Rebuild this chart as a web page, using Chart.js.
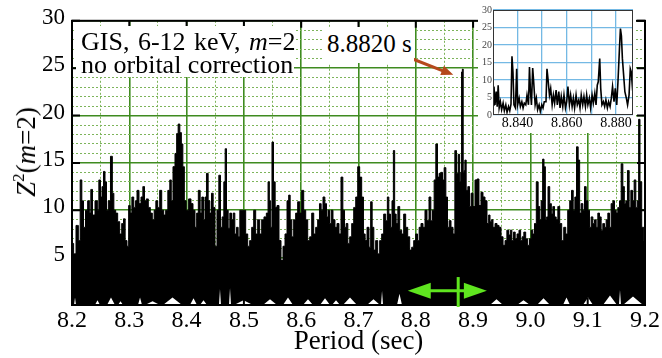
<!DOCTYPE html>
<html><head><meta charset="utf-8">
<script src="https://cdn.jsdelivr.net/npm/chart.js@4.4.0/dist/chart.umd.min.js"></script>
<style>
html,body{margin:0;padding:0;background:#fff;}
#wrap{position:relative;width:662px;height:358px;overflow:hidden;font-family:'Liberation Serif','Times New Roman',serif;}
#main{position:absolute;left:0;top:0;}
#insetBox{position:absolute;left:478px;top:0;width:158px;height:133px;background:#fff;}
#inset{position:absolute;left:0;top:0;}
.lbl{position:absolute;background:#fff;color:#000;white-space:nowrap;box-sizing:border-box;}
#ytitle{position:absolute;left:28px;top:152px;transform:translate(-50%,-50%) rotate(-90deg);font-size:27px;line-height:30px;white-space:nowrap;color:#000;}
</style></head><body>
<div id="wrap">
<canvas id="main" width="662" height="358"></canvas>
<div class="lbl" style="left:76px;top:26px;width:218px;height:51px;padding:4px 0 0 5px;font-size:26px;line-height:23px;"><span style="word-spacing:2px;">GIS, 6-12 keV, <i>m</i>=2</span><br>no orbital correction</div>
<div class="lbl" style="left:322px;top:27px;width:92px;height:36px;padding:2px 0 0 5px;font-size:25px;line-height:30px;">8.8820 s</div>
<div id="ytitle"><i>Z</i><span style="font-size:17px;position:relative;top:-11px;">2</span>(<i>m</i>=2)</div>
<div id="insetBox"><canvas id="inset" width="158" height="133"></canvas></div>
</div>
<script>
// ---------- main periodogram (upper envelope) ----------
const periods = [
8.2000,8.2010,8.2047,8.2093,8.2128,8.2157,8.2186,8.2215,8.2256,8.2291,8.2314,8.2343,8.2372,8.2431,8.2454,8.2483,8.2512,8.2535,8.2564,8.2588,
8.2616,8.2651,8.2692,8.2716,8.2745,8.2780,8.2814,8.2850,8.2885,8.2913,8.2942,8.2977,8.3000,8.3030,8.3060,8.3094,8.3117,8.3152,8.3187,8.3222,
8.3251,8.3280,8.3314,8.3349,8.3384,8.3419,8.3449,8.3478,8.3513,8.3548,8.3583,8.3618,8.3652,8.3693,
8.3720,8.3745,8.3780,8.3815,8.3838,8.3867,8.3897,8.3920,8.3949,8.3972,8.4012,8.4059,8.4094,8.4129,8.4164,8.4187,8.4222,8.4251,8.4280,8.4309,
8.4333,8.4361,8.4391,8.4420,8.4449,8.4478,8.4513,8.4548,8.4577,8.4606,8.4635,8.4664,8.4682,8.4711,8.4740,8.4769,8.4798,8.4827,8.4856,8.4885,
8.4914,8.4944,8.4979,8.5013,8.5049,8.5084,8.5118,8.5154,8.5188,8.5223,8.5258,8.5293,8.5328,8.5373,
8.5410,8.5433,8.5456,8.5478,8.5502,8.5531,8.5560,8.5595,8.5630,8.5665,8.5700,8.5735,8.5770,8.5793,8.5822,8.5851,8.5886,8.5921,8.5956,8.5991,
8.6026,8.6061,8.6096,8.6131,8.6166,8.6201,8.6236,8.6270,8.6305,8.6333,8.6363,8.6398,8.6428,8.6455,8.6480,8.6508,8.6537,8.6572,8.6607,8.6642,
8.6677,8.6712,8.6742,8.6770,8.6799,8.6829,8.6864,8.6899,8.6934,8.6969,8.7003,8.7038,8.7073,
8.7100,8.7131,8.7166,8.7200,8.7224,8.7253,8.7282,8.7317,8.7352,8.7387,8.7422,8.7457,8.7492,8.7515,8.7544,8.7572,8.7597,8.7620,8.7642,8.7672,
8.7702,8.7736,8.7771,8.7806,8.7841,8.7876,8.7911,8.7946,8.7981,8.8016,8.8044,8.8073,8.8108,8.8143,8.8178,8.8213,8.8248,8.8277,8.8305,8.8335,
8.8364,8.8393,8.8422,8.8452,8.8480,8.8510,8.8539,8.8567,8.8597,8.8632,8.8667,8.8696,8.8724,8.8754,8.8777,8.8792,8.8805,8.8820,8.8835,
8.8850,8.8864,8.8894,8.8923,8.8951,8.8980,8.9016,8.9050,8.9085,8.9120,8.9155,8.9190,8.9225,8.9260,8.9283,8.9307,8.9330,8.9365,8.9400,8.9435,
8.9470,8.9505,8.9540,8.9575,8.9604,8.9633,8.9662,8.9692,8.9720,8.9749,8.9784,8.9818,8.9841,8.9871,8.9900,8.9935,8.9970,8.9998,9.0028,9.0057,
9.0086,9.0120,9.0150,9.0173,9.0202,9.0225,9.0250,9.0272,9.0295,9.0320,9.0354,9.0377,9.0407,9.0435,9.0464,9.0494,9.0529,
9.0564,9.0599,9.0634,9.0669,9.0704,9.0732,9.0761,9.0791,9.0819,9.0848,9.0871,9.0900,9.0930,9.0958,9.0988,9.1017,9.1045,9.1075,9.1105,9.1133,
9.1162,9.1192,9.1220,9.1249,9.1279,9.1307,9.1337,9.1366,9.1394,9.1424,9.1454,9.1482,9.1511,9.1541,9.1569,9.1599,9.1628,9.1651,9.1680,9.1708,
9.1738,9.1768,9.1796,9.1825,9.1855,9.1878,9.1900,9.1925,9.1960,9.1995,9.2000
];
const z2 = [
4.5,6.5,5.4,8.4,6.8,13.2,11.0,8.2,10.0,11.0,9.7,12.2,9.5,11.0,10.0,13.2,11.4,12.5,14.1,13.0,
10.0,11.0,15.7,11.8,10.0,9.7,8.8,7.5,8.6,9.1,6.8,6.2,10.5,9.7,11.4,10.3,11.0,12.1,10.7,11.4,
12.5,11.0,11.2,10.3,9.7,9.0,10.0,11.0,10.3,12.1,10.0,9.5,10.0,12.1,
13.2,11.0,14.6,16.0,18.1,19.1,18.2,17.0,14.6,11.0,10.0,11.2,10.7,10.0,8.2,9.7,12.1,9.7,11.4,9.0,
11.4,13.9,11.0,9.7,11.8,10.3,6.2,10.0,13.7,8.2,9.3,13.0,16.5,10.0,8.1,9.7,9.0,9.7,7.5,8.2,
7.2,10.0,10.0,10.0,7.5,6.2,6.8,8.2,10.0,7.5,9.0,7.5,9.0,9.3,
9.7,13.0,11.0,8.2,17.2,13.0,10.3,10.5,6.8,4.7,6.2,7.5,11.0,11.6,9.0,7.2,9.0,9.7,10.9,9.7,
12.1,10.0,9.0,6.8,7.2,9.7,7.5,8.2,9.0,10.7,10.0,11.4,10.7,9.3,10.0,8.6,10.0,9.0,8.2,8.6,
7.5,13.5,10.0,8.2,8.6,6.5,7.2,8.6,10.3,11.4,14.6,13.5,11.4,
7.5,6.8,8.2,6.1,10.9,8.2,5.8,6.8,5.4,6.8,7.5,9.6,8.9,11.4,9.6,8.2,11.0,16.3,9.6,8.6,
10.4,7.9,7.5,9.6,8.2,7.2,5.8,6.1,6.8,7.5,6.8,8.2,8.6,8.2,10.0,8.9,11.4,8.9,10.0,13.2,
17.0,13.5,13.9,14.0,13.2,14.5,11.4,8.2,8.9,8.2,7.5,16.3,13.9,15.9,13.0,14.0,24.6,24.9,14.0,
14.2,15.3,12.1,12.5,10.4,11.8,10.4,13.2,13.3,10.5,11.9,11.4,11.0,8.6,9.5,8.8,9.0,8.2,8.6,8.4,
8.2,7.2,6.3,6.8,7.9,7.4,7.9,6.8,7.7,7.0,7.5,7.9,6.8,7.2,7.7,7.0,6.3,7.0,7.9,7.5,
8.6,13.0,10.4,9.0,11.0,15.4,14.6,9.0,9.3,12.5,10.7,9.6,10.4,9.3,9.0,10.4,8.6,
6.8,8.2,7.5,10.0,11.0,12.1,10.0,11.4,16.7,15.3,9.7,10.7,10.0,12.5,11.0,10.0,8.2,9.3,8.6,9.0,
8.2,9.7,9.3,7.9,8.6,8.2,9.0,9.7,8.2,10.7,11.0,10.0,9.7,10.3,11.0,14.9,12.5,10.7,11.0,14.2,
10.3,12.1,11.0,13.2,10.3,11.0,19.6,13.0,8.2,6.8,7.0
];
// lower envelope: spots near the bottom that the curve never reaches (white flecks)
const floorStart  = [8.2035,8.2105,8.2401,8.2611,8.2803,8.3152,8.3274,8.3588,8.4059,8.4234,8.4565,8.4740,8.4827,8.5333,8.5682,8.6031,8.6328,8.6538,8.6729,8.7148,8.7393,8.7672,8.9295,8.9766,9.0115,9.0569,9.0918,9.1267,9.1546,9.1616];
const floorEnd    = [8.2070,8.2122,8.2489,8.2750,8.2890,8.3222,8.3536,8.3920,8.4182,8.4356,8.4600,8.4775,8.5159,8.5578,8.5857,8.6206,8.6503,8.6677,8.6974,8.7375,8.7428,8.7759,8.9522,8.9993,9.0342,9.0691,9.1093,9.1511,9.1581,9.1965];
const floorHeight = [0.8,0.5,0.5,0.8,0.4,0.8,0.4,0.8,0.7,0.5,1.7,1.8,0.5,0.6,0.8,0.6,0.7,0.5,0.8,0.6,1.5,1.2,0.6,0.5,0.7,0.8,0.8,1.0,1.6,0.9];

const xMajorTicks = [8.2,8.3,8.4,8.5,8.6,8.7,8.8,8.9,9.0,9.1,9.2];
const xTickLabels = ['8.2','8.3','8.4','8.5','8.6','8.7','8.8','8.9','9.0','9.1','9.2'];
const xMinorTicks = [8.25,8.35,8.45,8.55,8.65,8.75,8.85,8.95,9.05,9.15];
const yMajorTicks = [0,5,10,15,20,25,30];
const yTickLabels = ['','5','10','15','20','25','30'];

// annotations
const greenArrowSpan = [8.786, 8.924];
const greenArrowLevel = 1.5;
const greenMark = 8.874;
const greenMarkTop = 2.95;
const brownArrowFrom = [8.7946, 25.97];
const brownArrowTo = [8.8654, 24.3];

// ---------- inset (zoom around 8.88 s) ----------
const inPeriods = [
8.8301,8.8305,8.8309,8.8314,8.8318,8.8322,8.8326,8.8331,8.8336,8.8342,8.8347,8.8353,8.8358,8.8364,8.8369,8.8374,8.8378,8.8382,8.8386,8.8392,
8.8397,8.8401,8.8407,8.8412,8.8418,8.8423,8.8428,8.8434,8.8439,8.8445,8.8449,8.8453,8.8457,8.8462,8.8466,8.8472,8.8477,8.8482,8.8488,8.8493,
8.8499,8.8504,8.8509,8.8516,8.8520,8.8524,8.8530,8.8535,8.8541,8.8546,8.8551,8.8557,8.8562,8.8568,8.8573,8.8578,8.8584,8.8589,8.8595,8.8600,
8.8605,8.8611,8.8616,8.8622,8.8627,8.8632,8.8638,8.8643,8.8649,8.8654,8.8659,8.8665,8.8670,8.8676,8.8681,8.8686,8.8692,8.8697,8.8703,8.8708,
8.8714,8.8719,8.8724,8.8728,8.8734,8.8738,8.8743,8.8749,8.8754,8.8759,8.8765,8.8770,8.8776,8.8781,8.8786,8.8792,8.8797,8.8803,8.8808,8.8814,
8.8818,8.8822,8.8826,8.8831,8.8836,8.8842,8.8847,8.8853,8.8858,8.8862,8.8866,8.8869
];
const inZ2 = [
2.9,8.1,2.9,6.7,2.4,8.5,2.0,3.8,1.5,3.4,1.2,2.9,0.8,2.4,1.2,3.1,16.8,12.3,2.9,2.0,
13.2,2.9,4.8,2.4,3.8,2.0,3.4,2.9,5.7,2.9,13.7,6.7,2.9,13.4,9.5,2.9,4.8,1.5,2.9,1.0,
2.9,2.0,3.8,3.8,13.2,10.4,5.7,7.6,2.9,5.7,3.4,7.1,2.9,6.7,2.0,5.3,2.4,5.7,2.0,3.8,
8.1,2.9,5.7,2.4,4.8,2.0,5.7,2.9,4.3,2.0,5.7,2.9,5.3,2.4,5.7,2.9,4.8,2.0,5.7,3.4,
6.2,2.9,8.5,9.5,16.1,7.6,2.9,3.8,2.4,4.3,2.0,3.8,2.4,4.8,8.1,3.8,7.6,2.9,9.5,18.9,
24.7,22.6,16.1,11.4,6.7,4.8,2.9,5.7,13.2,12.3,8.5,9.5
];
const inXTicks = [8.840,8.850,8.860,8.870,8.880];
const inXLabels = {'8.84':'8.840','8.86':'8.860','8.88':'8.880'};
const inYTicks = [0,5,10,15,20,25,30];

Chart.defaults.font.family = "'Liberation Serif','Times New Roman',serif";
Chart.defaults.color = '#000';

const isXMajor = v => xMajorTicks.some(t => Math.abs(t - v) < 1e-6);
const isYMajor = v => yMajorTicks.includes(v);

function arrowHead(ctx, x1, y1, x2, y2, len, half) {
  const ang = Math.atan2(y2 - y1, x2 - x1);
  ctx.beginPath();
  ctx.moveTo(x2, y2);
  ctx.lineTo(x2 - len * Math.cos(ang) + half * Math.sin(ang), y2 - len * Math.sin(ang) - half * Math.cos(ang));
  ctx.lineTo(x2 - len * Math.cos(ang) - half * Math.sin(ang), y2 - len * Math.sin(ang) + half * Math.cos(ang));
  ctx.closePath();
  ctx.fill();
}

const framePlugin = {
  id: 'frame',
  afterDatasetsDraw(chart) {
    const {ctx, chartArea: a, scales: {x, y}} = chart;
    ctx.save();
    ctx.strokeStyle = '#000';
    ctx.lineWidth = 2;
    ctx.strokeRect(a.left, a.top, a.right - a.left, a.bottom - a.top);
    ctx.beginPath();
    xMajorTicks.forEach(v => {
      const px = x.getPixelForValue(v);
      ctx.moveTo(px, a.top); ctx.lineTo(px, a.top + 7);
      ctx.moveTo(px, a.bottom); ctx.lineTo(px, a.bottom - 7);
    });
    yMajorTicks.forEach(v => {
      const py = y.getPixelForValue(v);
      ctx.moveTo(a.left, py); ctx.lineTo(a.left + 8, py);
      ctx.moveTo(a.right, py); ctx.lineTo(a.right - 8, py);
    });
    ctx.stroke();

    // green double arrow
    const gy = y.getPixelForValue(greenArrowLevel);
    const xl = x.getPixelForValue(greenArrowSpan[0]);
    const xr = x.getPixelForValue(greenArrowSpan[1]);
    ctx.strokeStyle = '#5fe51f';
    ctx.fillStyle = '#5fe51f';
    ctx.lineWidth = 3;
    ctx.beginPath(); ctx.moveTo(xl + 15, gy); ctx.lineTo(xr - 15, gy); ctx.stroke();
    arrowHead(ctx, xr - 30, gy, xl, gy, 23, 8);
    arrowHead(ctx, xl + 30, gy, xr, gy, 23, 8);
    const xm = x.getPixelForValue(greenMark);
    ctx.beginPath(); ctx.moveTo(xm, y.getPixelForValue(greenMarkTop)); ctx.lineTo(xm, a.bottom + 2); ctx.stroke();

    // brown arrow
    const bx1 = x.getPixelForValue(brownArrowFrom[0]), by1 = y.getPixelForValue(brownArrowFrom[1]);
    const bx2 = x.getPixelForValue(brownArrowTo[0]), by2 = y.getPixelForValue(brownArrowTo[1]);
    ctx.strokeStyle = '#b5491c';
    ctx.fillStyle = '#b5491c';
    ctx.lineWidth = 3;
    const ang = Math.atan2(by2 - by1, bx2 - bx1);
    ctx.beginPath(); ctx.moveTo(bx1, by1); ctx.lineTo(bx2 - 9 * Math.cos(ang), by2 - 9 * Math.sin(ang)); ctx.stroke();
    arrowHead(ctx, bx1, by1, bx2, by2, 12, 5);
    ctx.restore();
  }
};

// white flecks: small triangular notches from the bottom
const floorPoints = [];
floorStart.forEach((s, i) => {
  const e = floorEnd[i];
  floorPoints.push({x: s, y: 0}, {x: (s + e) / 2, y: floorHeight[i]}, {x: e, y: 0});
});

new Chart(document.getElementById('main'), {
  type: 'line',
  data: {
    datasets: [{
      data: periods.map((p, i) => ({x: p, y: z2[i]})),
      borderColor: '#000',
      backgroundColor: '#000',
      borderWidth: 1,
      pointRadius: 0,
      fill: 'origin',
      stepped: 'middle',
      order: 1
    }, {
      data: floorPoints,
      borderColor: '#fff',
      backgroundColor: '#fff',
      borderWidth: 0,
      pointRadius: 0,
      fill: 'origin',
      tension: 0,
      order: 0
    }]
  },
  options: {
    responsive: false,
    animation: false,
    events: [],
    layout: {padding: {top: 20, right: 17, left: 0, bottom: 0}},
    plugins: {legend: {display: false}, tooltip: {enabled: false}},
    scales: {
      x: {
        type: 'linear', min: 8.2, max: 9.2,
        afterBuildTicks: s => { s.ticks = xMajorTicks.concat(xMinorTicks).sort((a, b) => a - b).map(v => ({value: v})); },
        afterFit: s => { s.height = 53; },
        ticks: {
          autoSkip: false, maxRotation: 0, padding: 1,
          font: {size: 24},
          callback: v => { const i = xMajorTicks.findIndex(t => Math.abs(t - v) < 1e-6); return i >= 0 ? xTickLabels[i] : ''; }
        },
        grid: {
          drawTicks: false,
          color: c => (c.tick && isXMajor(c.tick.value)) ? '#3f8b20' : '#7db45a',
          lineWidth: c => (c.tick && isXMajor(c.tick.value)) ? 1.6 : 1
        },
        border: {display: false, dash: c => (c.tick && !isXMajor(c.tick.value)) ? [2, 2] : []},
        title: {display: true, text: 'Period (sec)', font: {size: 27}, padding: {top: 0, bottom: 0}}
      },
      y: {
        type: 'linear', min: 0, max: 30,
        afterBuildTicks: s => { const t = []; for (let v = 0; v <= 30; v++) t.push({value: v}); s.ticks = t; },
        afterFit: s => { s.width = 72; },
        ticks: {
          autoSkip: false, padding: 7, labelOffset: -3,
          font: {size: 23},
          callback: v => { const i = yMajorTicks.indexOf(v); return i >= 0 ? yTickLabels[i] : ''; }
        },
        grid: {
          drawTicks: false,
          color: c => (c.tick && isYMajor(c.tick.value)) ? '#3f8b20' : '#7db45a',
          lineWidth: c => (c.tick && isYMajor(c.tick.value)) ? 1.6 : 1
        },
        border: {display: false, dash: c => (c.tick && !isYMajor(c.tick.value)) ? [2, 2] : []}
      }
    }
  },
  plugins: [framePlugin]
});

const insetFrame = {
  id: 'insetFrame',
  afterDatasetsDraw(chart) {
    const {ctx, chartArea: a} = chart;
    ctx.save();
    ctx.strokeStyle = '#333';
    ctx.lineWidth = 1;
    ctx.strokeRect(a.left + 0.5, a.top + 0.5, a.right - a.left - 1, a.bottom - a.top - 1);
    ctx.restore();
  }
};

new Chart(document.getElementById('inset'), {
  type: 'line',
  data: {
    datasets: [{
      data: inPeriods.map((p, i) => ({x: p, y: inZ2[i]})),
      borderColor: '#000',
      borderWidth: 1.6,
      pointRadius: 0,
      fill: false,
      tension: 0
    }]
  },
  options: {
    responsive: false,
    animation: false,
    events: [],
    layout: {padding: {top: 10, right: 3, left: 0, bottom: 0}},
    plugins: {legend: {display: false}, tooltip: {enabled: false}},
    scales: {
      x: {
        type: 'linear', min: 8.8301, max: 8.8869,
        afterBuildTicks: s => { s.ticks = inXTicks.map(v => ({value: v})); },
        afterFit: s => { s.height = 18; },
        ticks: {
          autoSkip: false, maxRotation: 0, padding: 0,
          font: {size: 14},
          callback: v => inXLabels[String(Math.round(v * 1000) / 1000)] || ''
        },
        grid: {drawTicks: false, color: '#74b9e4', lineWidth: 1.3},
        border: {display: false}
      },
      y: {
        type: 'linear', min: 0, max: 30,
        afterBuildTicks: s => { s.ticks = inYTicks.map(v => ({value: v})); },
        afterFit: s => { s.width = 15; },
        ticks: {autoSkip: false, padding: 1, color: '#444', font: {size: 10}},
        grid: {drawTicks: false, color: '#74b9e4', lineWidth: 1.3},
        border: {display: false}
      }
    }
  },
  plugins: [insetFrame]
});
</script>
</body></html>
